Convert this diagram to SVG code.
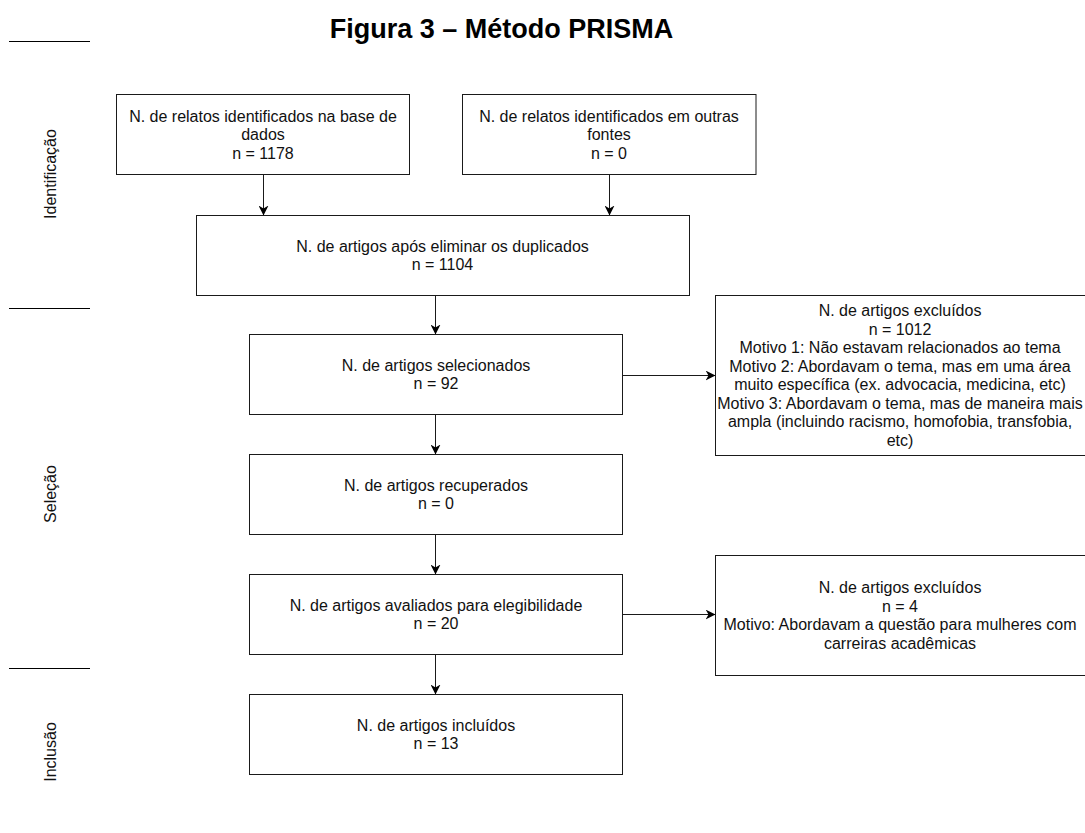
<svg xmlns="http://www.w3.org/2000/svg" width="1085" height="833" viewBox="0 0 1085 833">
  <style>
    .box { fill: #ffffff; stroke: #1a1a1a; stroke-width: 1; }
    .t { font-family: "Liberation Sans", Arial, Helvetica, sans-serif; font-size: 16px; fill: #111111; text-anchor: middle; }
    .side { font-family: "Liberation Sans", Arial, Helvetica, sans-serif; font-size: 16px; fill: #111111; text-anchor: middle; }
    .title { font-family: "Liberation Sans", Arial, Helvetica, sans-serif; font-size: 27px; font-weight: bold; fill: #000000; text-anchor: middle; }
    .sep { stroke: #000000; stroke-width: 1; }
    .edge { stroke: #1a1a1a; stroke-width: 1; fill: none; marker-end: url(#arrow); }
  </style>
  <defs>
    <marker id="arrow" viewBox="0 0 10 10" refX="10" refY="5" markerWidth="10" markerHeight="10" markerUnits="userSpaceOnUse" orient="auto">
      <path d="M0,0 L10,5 L0,10 L3,5 Z" fill="#000000"/>
    </marker>
  </defs>
  <rect x="0" y="0" width="1085" height="833" fill="#ffffff"/>

  <text class="title" x="501.5" y="38">Figura 3 – Método PRISMA</text>

  <g id="phases">
    <line class="sep" x1="9" y1="41.5" x2="90" y2="41.5"/>
    <line class="sep" x1="9" y1="308.5" x2="90" y2="308.5"/>
    <line class="sep" x1="9" y1="668.5" x2="90" y2="668.5"/>
    <text class="side" transform="translate(55.5,174) rotate(-90)" x="0" y="0">Identificação</text>
    <text class="side" transform="translate(55.5,494) rotate(-90)" x="0" y="0">Seleção</text>
    <text class="side" transform="translate(55.5,752) rotate(-90)" x="0" y="0">Inclusão</text>
  </g>

  <g id="connectors">
    <line class="edge" x1="263.5" y1="175" x2="263.5" y2="215.5"/>
    <line class="edge" x1="609.5" y1="175" x2="609.5" y2="215.5"/>
    <line class="edge" x1="435.5" y1="296" x2="435.5" y2="334.5"/>
    <line class="edge" x1="435.5" y1="415" x2="435.5" y2="454.5"/>
    <line class="edge" x1="435.5" y1="535" x2="435.5" y2="574.5"/>
    <line class="edge" x1="435.5" y1="655" x2="435.5" y2="694.5"/>
    <line class="edge" x1="623" y1="375.5" x2="715.5" y2="375.5"/>
    <line class="edge" x1="623" y1="614.5" x2="715.5" y2="614.5"/>
  </g>

  <g id="n1">
    <rect class="box" x="116.5" y="94.5" width="293" height="80"/>
    <text class="t" x="263" y="121.5">N. de relatos identificados na base de</text>
    <text class="t" x="263" y="140">dados</text>
    <text class="t" x="263" y="158.5">n = 1178</text>
  </g>
  <g id="n2">
    <rect class="box" x="462.5" y="94.5" width="293.5" height="80"/>
    <text class="t" x="609" y="121.5">N. de relatos identificados em outras</text>
    <text class="t" x="609" y="140">fontes</text>
    <text class="t" x="609" y="158.5">n = 0</text>
  </g>
  <g id="n3">
    <rect class="box" x="196.5" y="215.5" width="493" height="80"/>
    <text class="t" x="442.5" y="251.8">N. de artigos após eliminar os duplicados</text>
    <text class="t" x="442.5" y="270.3">n = 1104</text>
  </g>
  <g id="n4">
    <rect class="box" x="249.5" y="334.5" width="373" height="80"/>
    <text class="t" x="436" y="370.8">N. de artigos selecionados</text>
    <text class="t" x="436" y="389.3">n = 92</text>
  </g>
  <g id="n5">
    <rect class="box" x="249.5" y="454.5" width="373" height="80"/>
    <text class="t" x="436" y="490.8">N. de artigos recuperados</text>
    <text class="t" x="436" y="509.3">n = 0</text>
  </g>
  <g id="n6">
    <rect class="box" x="249.5" y="574.5" width="373" height="80"/>
    <text class="t" x="436" y="610.8">N. de artigos avaliados para elegibilidade</text>
    <text class="t" x="436" y="629.3">n = 20</text>
  </g>
  <g id="n7">
    <rect class="box" x="249.5" y="694.5" width="373" height="80"/>
    <text class="t" x="436" y="730.8">N. de artigos incluídos</text>
    <text class="t" x="436" y="749.3">n = 13</text>
  </g>
  <g id="e1">
    <rect class="box" x="715.5" y="295.5" width="372" height="160"/>
    <text class="t" x="900" y="316.3">N. de artigos excluídos</text>
    <text class="t" x="900" y="334.8">n = 1012</text>
    <text class="t" x="900" y="353.3">Motivo 1: Não estavam relacionados ao tema</text>
    <text class="t" x="900" y="371.8">Motivo 2: Abordavam o tema, mas em uma área</text>
    <text class="t" x="900" y="390.3">muito específica (ex. advocacia, medicina, etc)</text>
    <text class="t" x="900" y="408.8">Motivo 3: Abordavam o tema, mas de maneira mais</text>
    <text class="t" x="900" y="427.3">ampla (incluindo racismo, homofobia, transfobia,</text>
    <text class="t" x="900" y="445.8">etc)</text>
  </g>
  <g id="e2">
    <rect class="box" x="715.5" y="555.5" width="372" height="120"/>
    <text class="t" x="900" y="593.3">N. de artigos excluídos</text>
    <text class="t" x="900" y="611.8">n = 4</text>
    <text class="t" x="900" y="630.3">Motivo: Abordavam a questão para mulheres com</text>
    <text class="t" x="900" y="648.8">carreiras acadêmicas</text>
  </g>
</svg>
